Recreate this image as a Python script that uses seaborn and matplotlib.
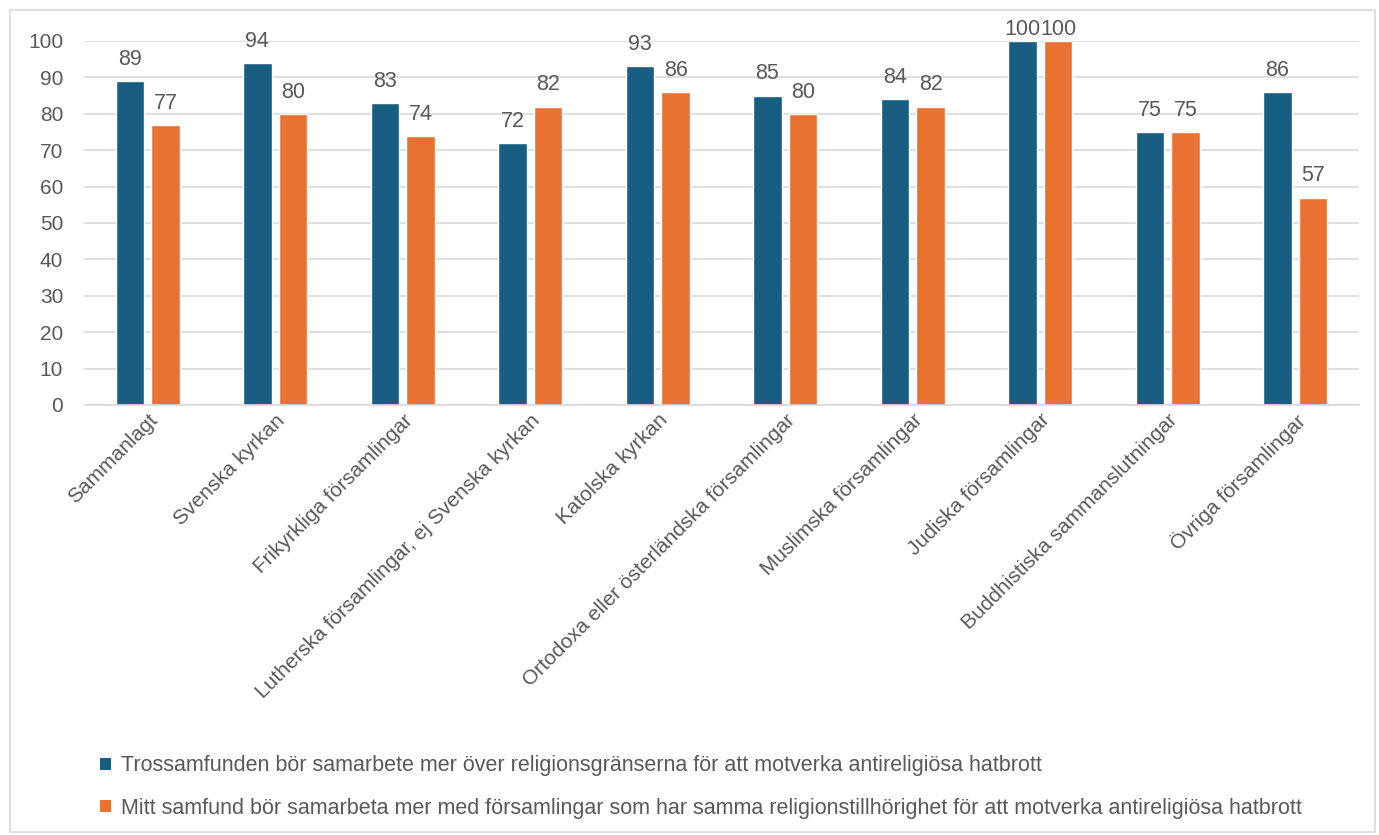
import pandas as pd
import numpy as np
import seaborn as sns
import matplotlib.pyplot as plt
from matplotlib.patches import Rectangle, Patch

# Data
categories = ["Sammanlagt", "Svenska kyrkan", "Frikyrkliga församlingar",
              "Lutherska församlingar, ej Svenska kyrkan", "Katolska kyrkan",
              "Ortodoxa eller österländska församlingar", "Muslimska församlingar",
              "Judiska församlingar", "Buddhistiska sammanslutningar", "Övriga församlingar"]
series_names = ["Trossamfunden bör samarbete mer över religionsgränserna för att motverka antireligiösa hatbrott",
                "Mitt samfund bör samarbeta mer med församlingar som har samma religionstillhörighet för att motverka antireligiösa hatbrott"]
blue_vals = [89, 94, 83, 72, 93, 85, 84, 100, 75, 86]
orange_vals = [77, 80, 74, 82, 86, 80, 82, 100, 75, 57]
y_ticks = [0, 10, 20, 30, 40, 50, 60, 70, 80, 90, 100]

df = pd.DataFrame({
    "Kategori": categories * 2,
    "Serie": [series_names[0]] * len(categories) + [series_names[1]] * len(categories),
    "Värde": blue_vals + orange_vals,
})

sns.set_theme(style="white")
plt.rcParams["font.family"] = ["Liberation Sans", "DejaVu Sans"]
text_color = "#595959"
colors = ["#175E82", "#E97132"]

fig = plt.figure(figsize=(13.79, 8.35), dpi=100)
fig.patches.append(Rectangle((10 / 1379, 3 / 835), 1365 / 1379, 822 / 835,
                             transform=fig.transFigure, fill=False,
                             edgecolor="#D9D9D9", linewidth=1.2))
ax = fig.add_axes([84 / 1379, 1 - 405 / 835, 1275 / 1379, 364 / 835])

sns.barplot(data=df, x="Kategori", y="Värde", hue="Serie", palette=colors,
            width=0.56, gap=0.21, legend=False, ax=ax, saturation=1)

for cont in ax.containers:
    labels = ax.bar_label(cont, fmt="%d", padding=8, fontsize=15.5, color=text_color)
    # labels at the very top get pushed down to stay inside the chart area (as Excel does)
    for bar, lab in zip(cont, labels):
        if bar.get_height() >= 98:
            lab.xyann = (0, 1)

ax.set_ylim(0, 100)
ax.set_yticks(y_ticks)
ax.yaxis.grid(True, color="#D9D9D9", linewidth=1.2)
ax.set_axisbelow(True)
for s in ["top", "right", "left"]:
    ax.spines[s].set_visible(False)
ax.spines["bottom"].set_color("#D9D9D9")
ax.spines["bottom"].set_linewidth(1.2)
ax.tick_params(axis="y", length=0, labelsize=15, labelcolor=text_color, pad=15)
ax.tick_params(axis="x", length=0, labelsize=15, labelcolor=text_color, pad=4)
ax.set_xticks(range(len(categories)))
ax.set_xticklabels(categories, rotation=45, ha="right", rotation_mode="anchor")
ax.set_xlabel("")
ax.set_ylabel("")
for t in ax.texts:
    t.set_clip_on(False)

handles = [Patch(facecolor=c, edgecolor="none") for c in colors]
fig.legend(handles, series_names, loc="upper left",
           bbox_to_anchor=(81 / 1379, 1 - 736 / 835), frameon=False,
           fontsize=15.5, labelcolor=text_color, handlelength=0.5, handleheight=0.5,
           handletextpad=0.45, labelspacing=1.0)

fig.savefig("out.png", dpi=100, facecolor="white")
